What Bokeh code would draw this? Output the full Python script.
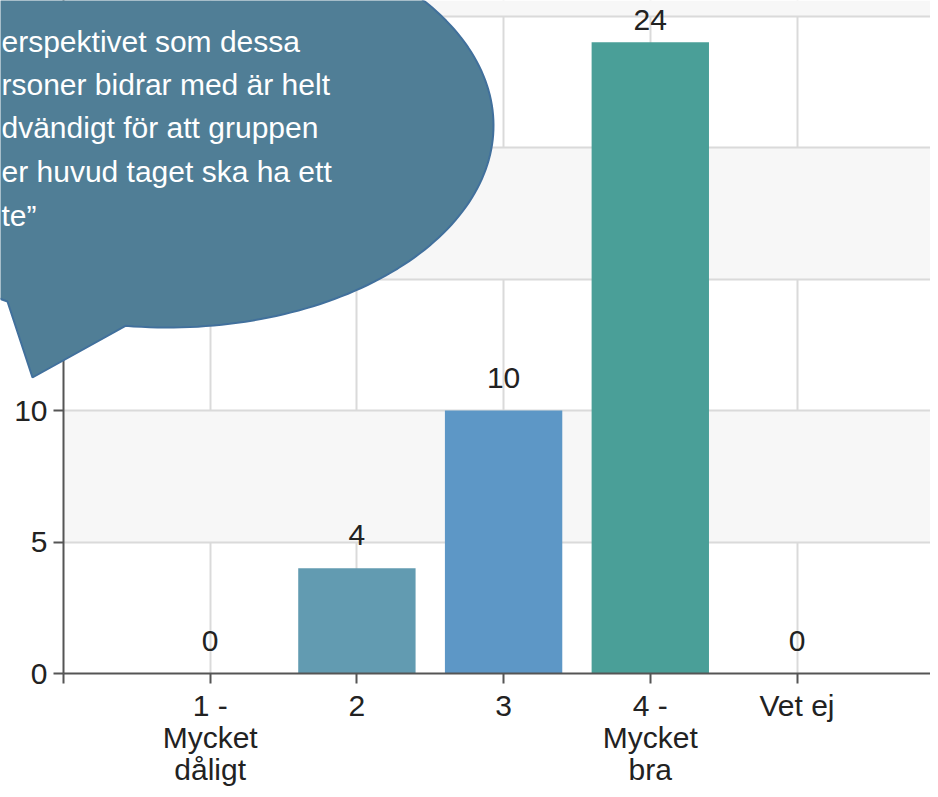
import numpy as np
from bokeh.plotting import figure
from bokeh.layouts import column
from bokeh.models import ColumnDataSource, FixedTicker, Range1d
from bokeh.core.properties import value
from bokeh.embed import file_html
from bokeh.resources import INLINE

# ---- data ----
categories = ["1 - Mycket dåligt", "2", "3", "4 - Mycket bra", "Vet ej"]
tick_labels = ["1 -\nMycket\ndåligt", "2", "3", "4 -\nMycket\nbra", "Vet ej"]
positions = [1, 2, 3, 4, 5]
counts = [0, 4, 10, 24, 0]
bar_colors = ["#629bb1", "#629bb1", "#5d97c6", "#4a9f98", "#629bb1"]
y_ticks = [0, 5, 10, 15, 20, 25]
bubble_lines = [
    "erspektivet som dessa",
    "rsoner bidrar med är helt",
    "dvändigt för att gruppen",
    "er huvud taget ska ha ett",
    "te\u201d",
]

# ---- layout ----
W, H = 930, 789
FL, FB = 63, 673          # frame left / frame bottom in canvas px
X_END = (W - FL) / 146.7
Y_END = FB / 26.3
SY = FB / Y_END
FONT = "Liberation Sans"

p = figure(width=W, height=H, x_range=Range1d(0, X_END), y_range=Range1d(0, Y_END),
           output_backend="svg", toolbar_location=None,
           min_border_left=FL, min_border_right=0, min_border_top=0,
           min_border_bottom=H - FB)
p.outline_line_color = None
p.background_fill_color = "white"
p.border_fill_color = "white"

# bars
src = ColumnDataSource(dict(x=positions, top=counts, color=bar_colors,
                            label=[str(c) for c in counts],
                            off=[-(min(22.0, (Y_END - c) * SY - 30.0) + 11.0) for c in counts]))
p.vbar(x="x", top="top", width=0.8, fill_color="color", line_color=None, source=src)
p.text(x="x", y="top", text="label", y_offset="off", source=src,
       text_align="center", text_baseline="alphabetic",
       text_font=value(FONT), text_font_size="30px", text_color="#222222")

# axes
p.xaxis.ticker = FixedTicker(ticks=[0] + positions)
p.xaxis.major_label_overrides = {0: ""} | {pos: lab for pos, lab in zip(positions, tick_labels)}
p.yaxis.ticker = FixedTicker(ticks=y_ticks)
p.yaxis.major_label_overrides = {25: ""}
for ax in (p.xaxis, p.yaxis):
    ax.axis_line_color = "#555555"
    ax.axis_line_width = 2
    ax.major_tick_line_color = "#555555"
    ax.major_tick_line_width = 2
    ax.major_tick_out = 10
    ax.major_tick_in = 0
    ax.minor_tick_line_color = None
    ax.major_label_text_font = FONT
    ax.major_label_text_font_size = "30px"
    ax.major_label_text_color = "#222222"
p.xaxis.major_label_text_line_height = 0.98
p.xaxis.major_label_standoff = 5
p.yaxis.major_label_standoff = 6

# grids
p.xgrid.grid_line_color = "#dadada"
p.xgrid.grid_line_width = 2
p.ygrid.grid_line_color = "#dadada"
p.ygrid.grid_line_width = 2
p.ygrid.band_fill_color = "#f7f7f7"
p.ygrid.band_fill_alpha = 1
p.ygrid.bounds = (0, 25)

# ---- speech bubble: transparent overlay figure in canvas pixels ----
ov = figure(width=W, height=H, x_range=Range1d(0, W), y_range=Range1d(H, 0),
            x_axis_location=None, y_axis_location=None,
            output_backend="svg", toolbar_location=None,
            min_border_left=0, min_border_right=0, min_border_top=0, min_border_bottom=0)
ov.grid.visible = False
ov.outline_line_color = None
ov.background_fill_color = None
ov.border_fill_color = None
ov.styles = {"position": "absolute", "left": "0px", "top": "0px"}
for fig in (p, ov):
    if "frame_align" in fig.properties():
        fig.frame_align = False

cx, cy, a, b = 167, 125, 326, 202
theta = np.radians(np.linspace(119.4, 457.4, 240))
bx = [float(v) for v in cx + a * np.cos(theta)] + [32.0]
by = [float(v) for v in cy + b * np.sin(theta)] + [377.0]
ov.patch(x=bx, y=by, fill_color="#507e96", fill_alpha=1,
         line_color="#41709c", line_width=2)

baselines = [41, 84, 127, 171, 215]
ov.text(x=[1] * len(bubble_lines), y=baselines, text=bubble_lines,
        text_align="left", text_baseline="alphabetic",
        text_font=value(FONT), text_font_size="30px", text_color="white")

layout = column(p, ov)
open("out.html", "w").write(file_html(layout, INLINE))
